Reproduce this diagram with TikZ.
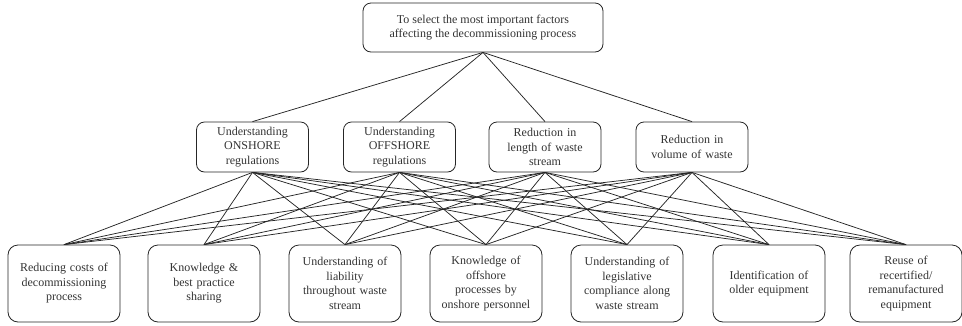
\documentclass[tikz,border=0pt]{standalone}
\usepackage{fontspec}
\setmainfont{Liberation Serif}
\begin{document}
\begin{tikzpicture}[x=1pt,y=-1pt,
  box/.style={draw=black!85, line width=0.8pt, rounded corners=8pt, align=center, inner sep=1pt,
    font=\fontsize{12}{14.5}\selectfont, text=black!80},
  topbox/.style={box, minimum width=240pt, minimum height=49pt, font=\fontsize{12}{13.5}\selectfont},
  midbox/.style={box, minimum width=112pt, minimum height=50pt, text width=110pt},
  botbox/.style={box, minimum width=112pt, minimum height=77pt, text width=110pt, rounded corners=10pt},
  link/.style={draw=black!85, line width=0.75pt}]
\useasboundingbox (0,0) rectangle (962,325);
\node[topbox] (t) at (483,27.5) {To select the most important factors\\affecting the decommissioning process};
\node[midbox] (m1) at (252.5,147) {Understanding\\ONSHORE\\regulations};
\node[midbox] (m2) at (399.5,147) {Understanding\\OFFSHORE\\regulations};
\node[midbox] (m3) at (545,147) {Reduction in\\length of waste\\stream};
\node[midbox] (m4) at (692,147) {Reduction in\\volume of waste};
\node[botbox] (b1) at (64,283.5) {Reducing costs of\\decommissioning\\process};
\node[botbox] (b2) at (204,283.5) {Knowledge \&\\best practice\\sharing};
\node[botbox] (b3) at (345,283.5) {Understanding of\\liability\\throughout waste\\stream};
\node[botbox] (b4) at (486,283.5) {Knowledge of\\offshore\\processes by\\onshore personnel};
\node[botbox] (b5) at (627,283.5) {Understanding of\\legislative\\compliance along\\waste stream};
\node[botbox] (b6) at (769,283.5) {Identification of\\older equipment};
\node[botbox] (b7) at (906,283.5) {Reuse of\\recertified/\\remanufactured\\equipment};
\foreach \m in {m1,m2,m3,m4} {
  \draw[link] (t.south) -- (\m.north);
  \foreach \b in {b1,b2,b3,b4,b5,b6,b7} { \draw[link] (\m.south) -- (\b.north); }
}
\end{tikzpicture}
\end{document}
